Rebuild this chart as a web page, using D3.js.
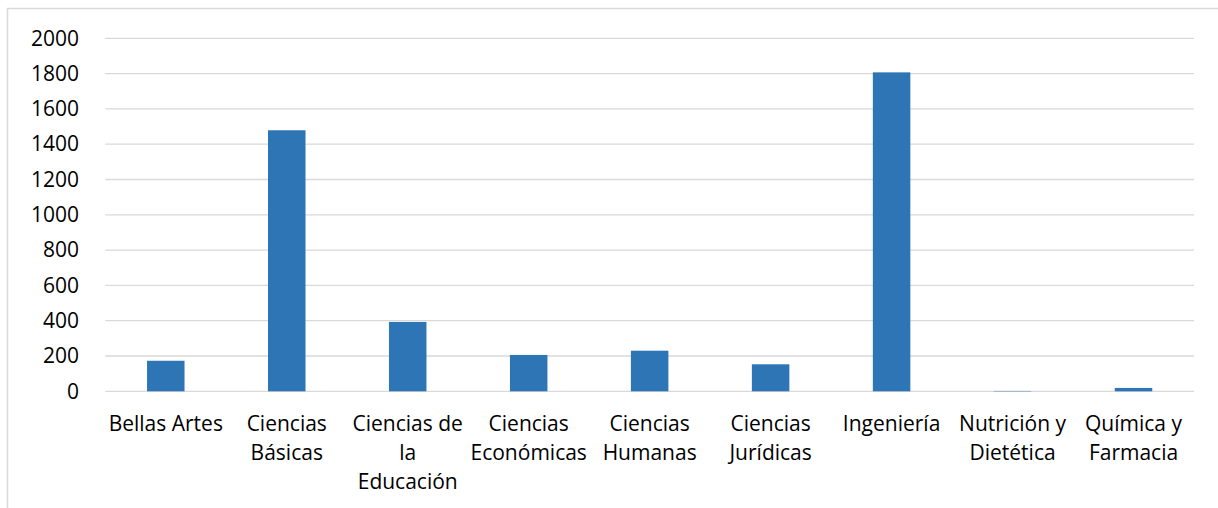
<!DOCTYPE html>
<html>
<head>
<meta charset="utf-8">
<script src="https://cdn.jsdelivr.net/npm/d3@7"></script>
<style>
  html, body { margin: 0; padding: 0; background: #fff; }
  svg { display: block; }
  text { font-family: "Open Sans", Lato, sans-serif; fill: #000; }
</style>
</head>
<body>
<svg id="chart" width="1218" height="508"></svg>
<script>
const categories = ["Bellas Artes", "Ciencias Básicas", "Ciencias de la Educación", "Ciencias Económicas",
  "Ciencias Humanas", "Ciencias Jurídicas", "Ingeniería", "Nutrición y Dietética", "Química y Farmacia"];
const values = [173, 1479, 393, 206, 230, 153, 1807, 2, 19];
const yTicks = [0, 200, 400, 600, 800, 1000, 1200, 1400, 1600, 1800, 2000];

const svg = d3.select("#chart");
const W = 1218, H = 508;
const plot = { left: 105.3, right: 1194, top: 38.3, bottom: 391.3 };
const fontSize = 21;
const fontFam = "'Open Sans', Lato, sans-serif";

// outer chart border (only left and top visible in crop)
svg.append("rect").attr("x", 7.5).attr("y", 8.5).attr("width", W + 20).attr("height", H + 20)
  .attr("fill", "none").attr("stroke", "#D9D9D9").attr("stroke-width", 1.5);

const x = d3.scaleBand().domain(categories).range([plot.left, plot.right])
  .paddingInner(0.69).paddingOuter(0.345);
const y = d3.scaleLinear().domain([0, 2000]).range([plot.bottom, plot.top]);

// gridlines
svg.append("g").selectAll("line").data(yTicks).join("line")
  .attr("x1", plot.left).attr("x2", plot.right)
  .attr("y1", d => y(d)).attr("y2", d => y(d))
  .attr("stroke", "#D9D9D9").attr("stroke-width", 1.3);

// y axis labels
const yAxis = d3.axisLeft(y).tickValues(yTicks).tickFormat(d3.format("d")).tickSize(0).tickPadding(0);
const gy = svg.append("g").attr("transform", `translate(79,0)`).call(yAxis);
gy.select(".domain").remove();
gy.selectAll("text").style("font-size", fontSize + "px").style("font-family", fontFam).attr("fill", "#000");

// bars
svg.append("g").selectAll("rect").data(values).join("rect")
  .attr("x", (d, i) => x(categories[i]))
  .attr("width", x.bandwidth())
  .attr("y", d => y(d))
  .attr("height", d => y(0) - y(d))
  .attr("fill", "#2E75B6");

// x axis labels with wrapping
const xAxis = d3.axisBottom(x).tickSize(0).tickPadding(0);
const gx = svg.append("g").attr("transform", `translate(0,${plot.bottom})`).call(xAxis);
gx.select(".domain").remove();
const maxW = x.step();
gx.selectAll("text")
  .style("font-size", fontSize + "px").style("font-family", fontFam).attr("fill", "#000")
  .each(function(d) {
    const t = d3.select(this);
    const words = d.split(" ");
    t.text(null).attr("y", 0).attr("dy", null);
    const lines = [];
    let cur = [];
    const probe = t.append("tspan");
    words.forEach(w => {
      const test = cur.concat([w]).join(" ");
      probe.text(test);
      if (cur.length && probe.node().getComputedTextLength() > maxW) {
        lines.push(cur.join(" "));
        cur = [w];
      } else cur.push(w);
    });
    lines.push(cur.join(" "));
    probe.remove();
    lines.forEach((ln, i) => {
      t.append("tspan").attr("x", 0).attr("y", 40 + i * 28.7).text(ln);
    });
  });
</script>
</body>
</html>
